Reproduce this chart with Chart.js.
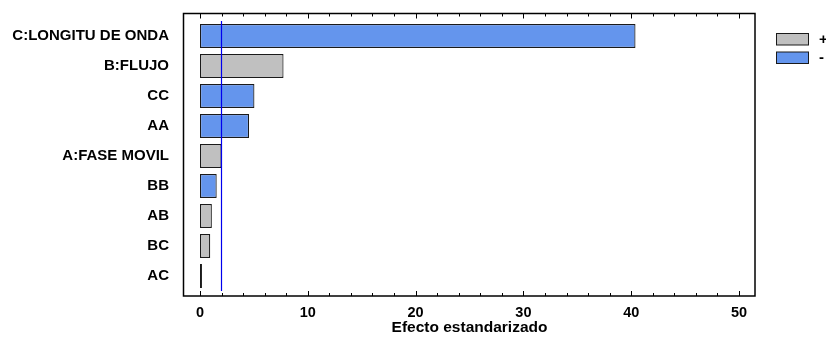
<!DOCTYPE html>
<html>
<head>
<meta charset="utf-8">
<script src="https://cdn.jsdelivr.net/npm/chart.js@4.4.1/dist/chart.umd.min.js"></script>
<style>
  body { margin: 0; background: #fff; }
  #wrap { width: 826px; height: 337px; }
</style>
</head>
<body>
<div id="wrap"><canvas id="paretoChart" width="826" height="337"></canvas></div>
<script>
// Diagrama de Pareto estandarizado
const categories = ['C:LONGITU DE ONDA', 'B:FLUJO', 'CC', 'AA', 'A:FASE MOVIL', 'BB', 'AB', 'BC', 'AC'];
const effects = [40.4, 7.75, 5.05, 4.55, 2.0, 1.55, 1.1, 0.95, 0.18];
const signs = ['-', '+', '-', '-', '+', '-', '+', '+', '+'];
const criticalValue = 1.96;
const xTicks = [0, 10, 20, 30, 40, 50];

const positiveValues = effects.map((v, i) => signs[i] === '+' ? v : null);
const negativeValues = effects.map((v, i) => signs[i] === '-' ? v : null);

const GREY = '#c0c0c0';
const BLUE = '#6495ed';
const boldFont = 'Liberation Sans, Arial, sans-serif';

const framePlugin = {
    id: 'framePlugin',
    afterDatasetsDraw(chart) {
        const { ctx, chartArea: a, scales: { x } } = chart;
        const left = a.left - 16.5, right = a.right + 16, top = a.top - 7.5, bottom = a.bottom + 5;

        ctx.save();
        // linea de referencia
        const cx = Math.round(x.getPixelForValue(criticalValue)) + 0.5;
        ctx.strokeStyle = '#0000ee';
        ctx.lineWidth = 1.2;
        ctx.beginPath();
        ctx.moveTo(cx, a.top);
        ctx.lineTo(cx, a.bottom);
        ctx.stroke();

        // marco
        ctx.strokeStyle = '#000';
        ctx.lineWidth = 1.5;
        ctx.strokeRect(left, top, right - left, bottom - top);

        // marcas del eje x (mayores y menores)
        ctx.lineWidth = 1;
        for (let v = xTicks[0]; v <= xTicks[xTicks.length - 1]; v += 2) {
            const px = Math.round(x.getPixelForValue(v)) + 0.5;
            const len = xTicks.includes(v) ? 5 : 3;
            ctx.beginPath();
            ctx.moveTo(px, bottom);
            ctx.lineTo(px, bottom - len);
            ctx.moveTo(px, top);
            ctx.lineTo(px, top + len);
            ctx.stroke();
        }

        // leyenda
        const items = [
            { label: chart.data.datasets[0].label, color: GREY },
            { label: chart.data.datasets[1].label, color: BLUE }
        ];
        ctx.font = 'bold 15px ' + boldFont;
        ctx.textBaseline = 'middle';
        items.forEach((it, i) => {
            const by = 33.5 + i * 18.5;
            ctx.fillStyle = it.color;
            ctx.fillRect(776.5, by, 32, 11.5);
            ctx.strokeStyle = '#1a1a1a';
            ctx.strokeRect(776.5, by, 32, 11.5);
            ctx.fillStyle = '#000';
            ctx.fillText(it.label, 819, by + 6);
        });
        ctx.restore();
    }
};

new Chart(document.getElementById('paretoChart'), {
    type: 'bar',
    data: {
        labels: categories,
        datasets: [
            {
                label: '+',
                data: positiveValues,
                backgroundColor: GREY,
                borderColor: '#1a1a1a',
                borderWidth: 1.2,
                borderSkipped: false
            },
            {
                label: '-',
                data: negativeValues,
                backgroundColor: BLUE,
                borderColor: '#1a1a1a',
                borderWidth: 1.2,
                borderSkipped: false
            }
        ]
    },
    options: {
        indexAxis: 'y',
        responsive: false,
        animation: false,
        layout: { padding: { top: 21, right: 87, bottom: 0, left: 0 } },
        datasets: { bar: { categoryPercentage: 1, barPercentage: 0.8 } },
        plugins: { legend: { display: false }, tooltip: { enabled: false } },
        scales: {
            x: {
                stacked: true,
                min: 0,
                max: 50,
                grid: { display: false, drawTicks: false },
                border: { display: false },
                afterBuildTicks: (s) => { s.ticks = xTicks.map(v => ({ value: v })); },
                afterFit: (s) => { s.height = 46; s.paddingLeft = 0; s.paddingRight = 0; },
                ticks: {
                    color: '#000',
                    padding: 13,
                    maxRotation: 0,
                    font: { family: boldFont, size: 14.5, weight: 'bold' }
                },
                title: {
                    display: true,
                    text: 'Efecto estandarizado',
                    color: '#000',
                    padding: { top: 0, bottom: 0 },
                    font: { family: boldFont, size: 15.5, weight: 'bold' }
                }
            },
            y: {
                stacked: true,
                grid: { display: false, drawTicks: false },
                border: { display: false },
                afterFit: (s) => { s.width = 200; s.paddingTop = 0; s.paddingBottom = 0; },
                ticks: {
                    color: '#000',
                    padding: 31,
                    font: { family: boldFont, size: 15, weight: 'bold' }
                }
            }
        }
    },
    plugins: [framePlugin]
});
</script>
</body>
</html>
